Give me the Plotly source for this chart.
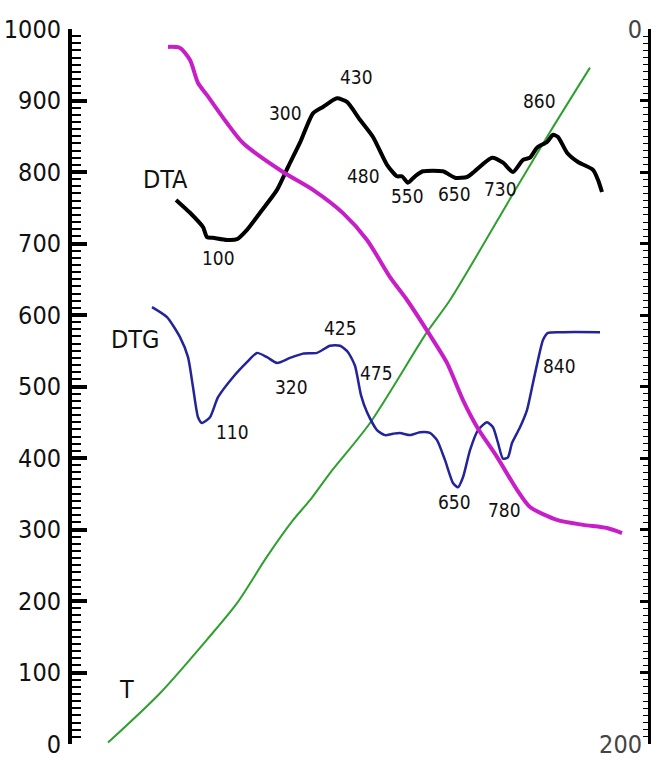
import plotly.graph_objects as go

# Time axis (arbitrary units, not drawn) shared by all four curves
t_x = [6.25, 15.28, 23.44, 28.65, 33.85, 38.37, 41.32, 44.79, 51.74, 61.63, 65.63, 77.26, 82.99, 89.93]
t_val = [2, 71, 146, 197, 262, 313, 341, 379, 449, 576, 621, 779, 856, 946]

tg_x = [16.67, 18.75, 20.49, 21.88, 23.44, 26.91, 29.69, 36.63, 41.84, 47.05, 51.22, 55.21,
        58.16, 61.81, 65.10, 67.88, 70.31, 73.78, 77.26, 79.51, 84.20, 88.72, 92.88, 95.49]
tg_val = [5.0, 5.3, 8.7, 15.1, 18.5, 26.3, 31.9, 40.0, 45.0, 51.5, 59.0, 69.4,
          75.8, 84.8, 93.4, 103.8, 111.3, 119.7, 128.9, 133.7, 137.3, 138.7, 139.6, 141.0]

dta_x = [18.06, 20.49, 22.74, 23.44, 24.48, 26.91, 28.65, 30.38, 32.64, 35.59, 37.50, 39.58,
         41.84, 43.58, 46.01, 47.74, 50.00, 52.26, 54.69, 56.42, 57.29, 58.33, 59.55, 60.94,
         64.41, 66.49, 68.58, 69.62, 72.92, 74.83, 76.56, 78.30, 79.51, 80.73, 82.47, 83.51,
         84.38, 85.94, 87.85, 90.45, 91.32, 92.01]
dta_val = [761, 743, 723, 709, 708, 705, 706, 719, 743, 775, 807, 841,
           882, 891, 903, 898, 873, 849, 810, 794, 794, 785, 794, 801,
           801, 792, 793, 799, 820, 813, 800, 817, 820, 834, 842, 852,
           849, 827, 814, 803, 789, 772]

dtg_x = [13.89, 16.49, 18.75, 20.14, 21.01, 21.88, 22.57, 23.96, 25.35, 27.95, 30.38, 32.12,
         33.85, 35.59, 37.85, 40.10, 42.53, 44.79, 46.53, 47.92, 49.13, 50.17, 51.22, 52.95,
         54.34, 55.73, 56.94, 58.68, 60.42, 62.15, 63.37, 64.76, 66.15, 67.01, 67.88, 69.10,
         70.49, 72.05, 73.09, 73.96, 74.83, 75.69, 76.39, 77.78, 78.99, 80.03, 80.90, 81.77,
         82.64, 85.24, 91.67]
dtg_val = [611, 597, 569, 541, 499, 457, 449, 457, 485, 513, 534, 547,
           541, 533, 540, 546, 547, 557, 557, 548, 529, 488, 464, 439,
           432, 434, 435, 432, 436, 435, 425, 397, 365, 359, 373, 411,
           439, 450, 443, 421, 399, 401, 421, 443, 467, 505, 537, 565,
           575, 576, 576]

# Temperature labels of the thermal events
peak_text = ["100", "300", "430", "480", "550", "650", "730", "860",
             "110", "320", "425", "475", "650", "780", "840"]
peak_x = [25.35, 36.98, 49.31, 50.69, 58.33, 66.49, 74.31, 81.08,
          27.78, 38.19, 46.70, 52.78, 66.49, 75.00, 84.72]
peak_y = [680, 882, 933, 794, 766, 769, 776, 899,
          436, 499, 582, 519, 338, 327, 529]

curve_names = ["TG", "DTA", "DTG", "T"]
curve_name_x = [17.88, 16.15, 10.94, 9.38]
curve_name_y = [1001, 789, 566, 76]

left_ticks = list(range(0, 1001, 100))
right_ticks = list(range(0, 201, 20))
right_text = ["0"] + [""] * 9 + ["200"]

FONT = "DejaVu Sans Condensed, Roboto"

fig = go.Figure()
fig.add_trace(go.Scatter(x=t_x, y=t_val, mode="lines", line=dict(color="#2ea02e", width=2, shape="spline", smoothing=0.8)))
fig.add_trace(go.Scatter(x=dtg_x, y=dtg_val, mode="lines", line=dict(color="#23239a", width=2.5, shape="spline", smoothing=0.6)))
fig.add_trace(go.Scatter(x=dta_x, y=dta_val, mode="lines", line=dict(color="#000000", width=4, shape="spline", smoothing=0.6)))
fig.add_trace(go.Scatter(x=tg_x, y=tg_val, mode="lines", yaxis="y2",
                         line=dict(color="#c81ec8", width=4, shape="spline", smoothing=0.7)))

for txt, x, y in zip(peak_text, peak_x, peak_y):
    fig.add_annotation(x=x, y=y, xref="x", yref="y", text=txt, showarrow=False,
                       font=dict(family=FONT, size=19, color="#111"))
for txt, x, y in zip(curve_names, curve_name_x, curve_name_y):
    fig.add_annotation(x=x, y=y, xref="x", yref="y", text=txt, showarrow=False,
                       font=dict(family=FONT, size=25, color="#111"))

fig.update_layout(
    width=658, height=760,
    margin=dict(l=72, r=10, t=29, b=16),
    paper_bgcolor="white", plot_bgcolor="white",
    showlegend=False,
    font=dict(family=FONT, color="#111"),
    xaxis=dict(range=[0, 100], visible=False, automargin=False),
    yaxis=dict(range=[0, 1000], tickvals=left_ticks, ticks="inside", ticklen=15, tickwidth=4,
               tickcolor="black", showline=True, linewidth=4, linecolor="black",
               showgrid=False, zeroline=False, tickfont=dict(size=25, family=FONT),
               ticklabelstandoff=2, automargin=False,
               minor=dict(dtick=10, ticks="inside", ticklen=9, tickwidth=1.5, tickcolor="black")),
    yaxis2=dict(range=[200, 0], overlaying="y", side="right", tickvals=right_ticks, ticktext=right_text,
                ticks="inside", ticklen=8, tickwidth=3, tickcolor="black", showline=True,
                linewidth=3, linecolor="black", showgrid=False, zeroline=False,
                ticklabelposition="inside", ticklabeloverflow="allow", automargin=False,
                tickfont=dict(size=25, family=FONT),
                minor=dict(dtick=2, ticks="inside", ticklen=5, tickwidth=1.2, tickcolor="black")),
)

fig.write_html("out.html")
